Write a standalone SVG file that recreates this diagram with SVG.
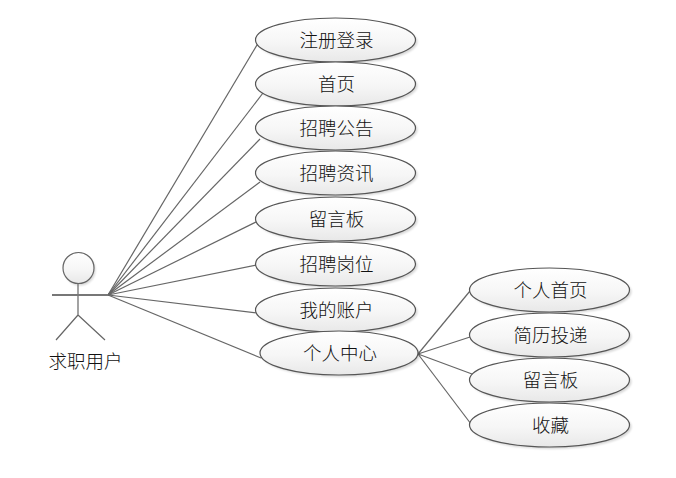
<svg xmlns="http://www.w3.org/2000/svg" width="676" height="478" viewBox="0 0 676 478">
<defs>
<linearGradient id="g" x1="0" y1="0" x2="0" y2="1"><stop offset="0" stop-color="#ffffff"/><stop offset="0.55" stop-color="#f6f6f6"/><stop offset="1" stop-color="#e8e8e8"/></linearGradient>
<filter id="s" x="-10%" y="-20%" width="125%" height="150%"><feGaussianBlur stdDeviation="1.2"/></filter>
</defs>
<style>
text{font-family:"Noto Sans CJK SC","Noto Sans CJK JP",sans-serif;font-size:18.500px;fill:#111;text-anchor:middle;dominant-baseline:central;font-weight:300}
.e{fill:url(#g);stroke:#555;stroke-width:1.2}
.sh{fill:#000;opacity:.16;filter:url(#s)}
.c{fill:none;stroke:#666;stroke-width:1.2}
.a{fill:none;stroke:#666;stroke-width:1.2}
</style>
<rect width="676" height="478" fill="#fff"/>
<g id="connectors">
<path class="c" d="M108 295L257 45"/>
<path class="c" d="M108 295L263 93"/>
<path class="c" d="M108 295L260 139"/>
<path class="c" d="M108 295L260 182"/>
<path class="c" d="M108 295L258 221"/>
<path class="c" d="M108 295L257 265"/>
<path class="c" d="M108 295L257 313"/>
<path class="c" d="M108 295L261 358"/>
<path class="c" d="M418 354L470 291"/>
<path class="c" d="M418 354L470 337"/>
<path class="c" d="M418 354L472 374"/>
<path class="c" d="M418 354L471 424"/>
</g>
<g id="actor">
<circle class="sh" cx="80" cy="270" r="15.5"/>
<circle cx="78.500" cy="268" r="15.500" fill="url(#g)" stroke="#666" stroke-width="1.200"/>
<path class="a" d="M78 284V315M78 315L56 340M78 315L105 340"/>
<path d="M52 295H108" fill="none" stroke="#777" stroke-width="1.800"/>
<text x="85.500" y="360">求职用户</text>
</g>
<g id="n1"><ellipse class="sh" cx="337.500" cy="42" rx="80" ry="22"/><ellipse class="e" cx="335.500" cy="40" rx="80" ry="22"/><text x="336.500" y="39">注册登录</text></g>
<g id="n2"><ellipse class="sh" cx="337.500" cy="86" rx="80" ry="22"/><ellipse class="e" cx="335.500" cy="84" rx="80" ry="22"/><text x="336.500" y="83">首页</text></g>
<g id="n3"><ellipse class="sh" cx="337.500" cy="130" rx="80" ry="22"/><ellipse class="e" cx="335.500" cy="128" rx="80" ry="22"/><text x="336.500" y="127">招聘公告</text></g>
<g id="n4"><ellipse class="sh" cx="337.500" cy="175" rx="80" ry="22"/><ellipse class="e" cx="335.500" cy="173" rx="80" ry="22"/><text x="336.500" y="172">招聘资讯</text></g>
<g id="n5"><ellipse class="sh" cx="337.500" cy="221" rx="80" ry="22"/><ellipse class="e" cx="335.500" cy="219" rx="80" ry="22"/><text x="336.500" y="218">留言板</text></g>
<g id="n6"><ellipse class="sh" cx="337.500" cy="266" rx="80" ry="22"/><ellipse class="e" cx="335.500" cy="264" rx="80" ry="22"/><text x="336.500" y="263">招聘岗位</text></g>
<g id="n7"><ellipse class="sh" cx="337.500" cy="312" rx="80" ry="22"/><ellipse class="e" cx="335.500" cy="310" rx="80" ry="22"/><text x="336.500" y="309">我的账户</text></g>
<g id="n8"><ellipse class="sh" cx="341" cy="355" rx="79" ry="22"/><ellipse class="e" cx="339" cy="353" rx="79" ry="22"/><text x="340" y="352">个人中心</text></g>
<g id="n9"><ellipse class="sh" cx="551.500" cy="292" rx="80" ry="22"/><ellipse class="e" cx="549.500" cy="290" rx="80" ry="22"/><text x="550.500" y="289">个人首页</text></g>
<g id="n10"><ellipse class="sh" cx="551.500" cy="337" rx="80" ry="22"/><ellipse class="e" cx="549.500" cy="335" rx="80" ry="22"/><text x="550.500" y="334">简历投递</text></g>
<g id="n11"><ellipse class="sh" cx="551.500" cy="382" rx="80" ry="22"/><ellipse class="e" cx="549.500" cy="380" rx="80" ry="22"/><text x="550.500" y="379">留言板</text></g>
<g id="n12"><ellipse class="sh" cx="551.500" cy="427" rx="80" ry="22"/><ellipse class="e" cx="549.500" cy="425" rx="80" ry="22"/><text x="550.500" y="424">收藏</text></g>
</svg>
